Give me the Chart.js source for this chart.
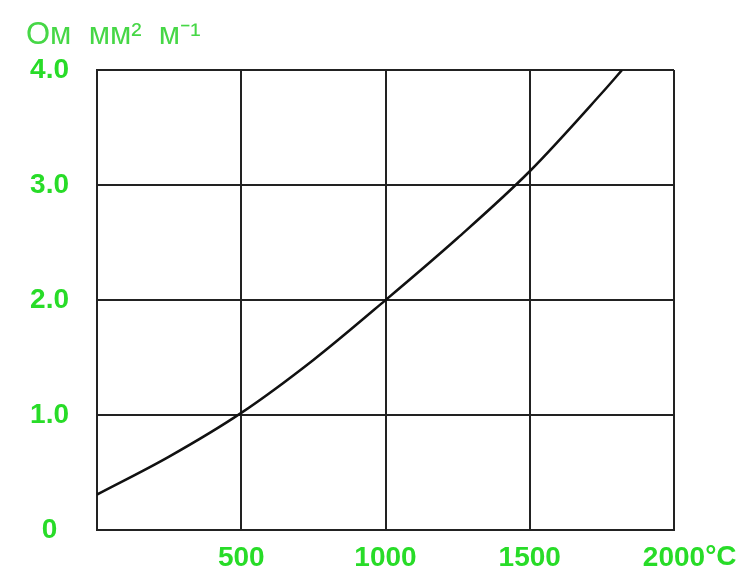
<!DOCTYPE html>
<html>
<head>
<meta charset="utf-8">
<script src="https://cdn.jsdelivr.net/npm/chart.js@4/dist/chart.umd.min.js"></script>
<style>
  html, body { margin: 0; padding: 0; background: #fff; }
  #wrap { width: 740px; height: 575px; position: relative; }
</style>
</head>
<body>
<div id="wrap"><canvas id="res-chart"></canvas></div>
<script>
// temperature, °C
const temps = [0, 250, 500, 750, 1000, 1250, 1500, 1750, 1820];
// resistivity, Ом мм² м⁻¹
const resistivity = [0.31, 0.64, 1.02, 1.48, 2.0, 2.54, 3.12, 3.8, 4.0];
const xTicks = [500, 1000, 1500, 2000];
const yTicks = ['0', '1.0', '2.0', '3.0', '4.0'];
const unitLabel = 'Ом  мм²  м⁻¹';
const tempUnit = '°C';

const green = 'rgb(40, 220, 40)';
const lightGreen = 'rgb(70, 215, 70)';
const tickFont = { family: 'Liberation Sans, Arial, sans-serif', size: 28, weight: 'bold' };

const points = temps.map(function(t, i) {
  return { x: t, y: resistivity[i] };
});

// unit label at top left and °C after the last x label
const extraText = {
  id: 'extraText',
  afterDraw: function(chart) {
    const ctx = chart.ctx;
    ctx.save();
    ctx.fillStyle = lightGreen;
    ctx.font = '31px "Liberation Sans", Arial, sans-serif';
    ctx.textBaseline = 'alphabetic';
    ctx.textAlign = 'left';
    ctx.fillText(unitLabel, 26, 44);

    const xs = chart.scales.x;
    ctx.font = 'bold 28px "Liberation Sans", Arial, sans-serif';
    ctx.fillStyle = green;
    const w = ctx.measureText(String(xTicks[xTicks.length - 1])).width;
    const px = xs.getPixelForValue(xTicks[xTicks.length - 1]);
    ctx.textBaseline = 'middle';
    ctx.fillText(tempUnit, px + w / 2, xs.top + 27);
    ctx.restore();
  }
};

const ctx = document.getElementById('res-chart').getContext('2d');
const myChart = new Chart(ctx, {
  type: 'line',
  data: {
    datasets: [
      {
        data: points,
        borderColor: '#111',
        borderWidth: 2.5,
        pointRadius: 0,
        fill: false,
        cubicInterpolationMode: 'monotone'
      }
    ]
  },
  options: {
    responsive: true,
    maintainAspectRatio: false,
    animation: false,
    layout: {
      padding: { top: 70, right: 66, left: 0, bottom: 0 }
    },
    plugins: {
      legend: { display: false },
      tooltip: { enabled: false }
    },
    scales: {
      x: {
        type: 'linear',
        min: 0,
        max: 2000,
        afterBuildTicks: function(scale) {
          scale.ticks = [0].concat(xTicks).map(function(v) { return { value: v }; });
        },
        afterFit: function(scale) { scale.height = 44; },
        grid: { color: '#222', lineWidth: 2, drawTicks: false },
        border: { color: '#222', width: 2 },
        ticks: {
          color: green,
          font: tickFont,
          padding: 11,
          maxRotation: 0,
          autoSkip: false,
          callback: function(v) { return v === 0 ? '' : String(v); }
        }
      },
      y: {
        min: 0,
        max: 4,
        afterBuildTicks: function(scale) {
          scale.ticks = yTicks.map(function(t, i) { return { value: i }; });
        },
        afterFit: function(scale) { scale.width = 97; },
        grid: { color: '#222', lineWidth: 2, drawTicks: false },
        border: { color: '#222', width: 2 },
        ticks: {
          color: green,
          font: tickFont,
          padding: 28,
          crossAlign: 'center',
          callback: function(v, i) { return yTicks[i]; }
        }
      }
    }
  },
  plugins: [extraText]
});
</script>
</body>
</html>
